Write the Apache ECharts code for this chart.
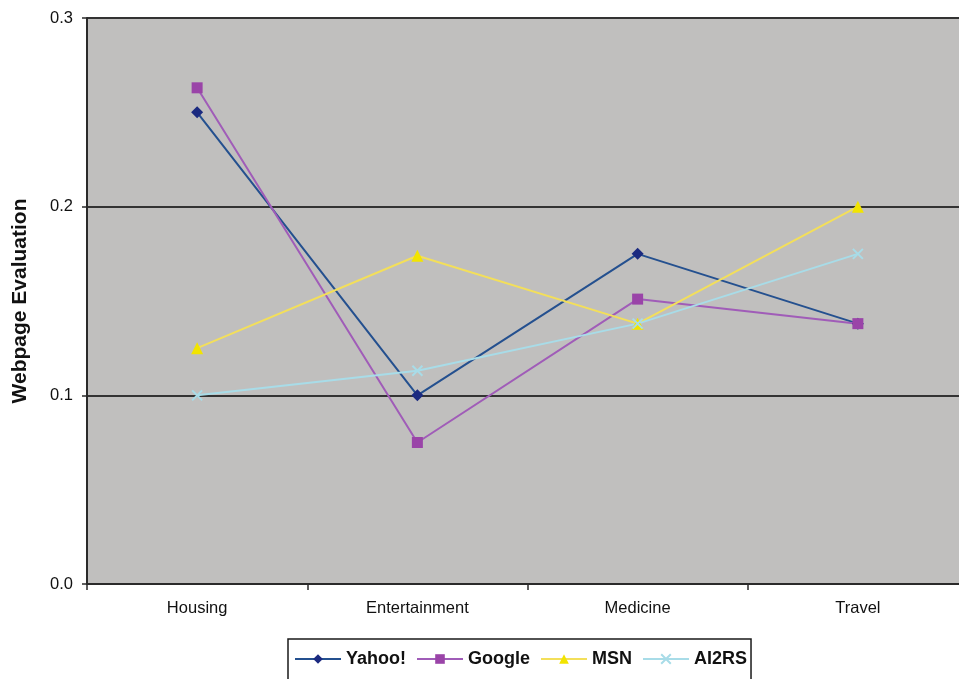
<!DOCTYPE html>
<html>
<head>
<meta charset="utf-8">
<script src="https://cdn.jsdelivr.net/npm/echarts@6/dist/echarts.min.js"></script>
<style>
html,body{margin:0;padding:0;background:#fff;}
#c{width:959px;height:679px;}
</style>
</head>
<body>
<div id="c"></div>
<script>
const categories = ['Housing', 'Entertainment', 'Medicine', 'Travel'];
const yahoo = [0.25, 0.1, 0.175, 0.138];
const google = [0.263, 0.075, 0.151, 0.138];
const msn = [0.125, 0.174, 0.138, 0.2];
const ai2rs = [0.1, 0.113, 0.138, 0.175];
const yTicks = [0, 0.1, 0.2, 0.3];

const chart = echarts.init(document.getElementById('c'), null, {renderer: 'canvas'});
const FONT = 'Liberation Sans';
const xPath = 'path://M0,0L10,10M10,0L0,10';
chart.setOption({
  animation: false,
  backgroundColor: '#ffffff',
  textStyle: {fontFamily: FONT},
  grid: {left: 87, top: 18, width: 881, height: 566, backgroundColor: '#c0bfbe', show: true, borderWidth: 0,
         containLabel: false, outerBoundsMode: 'none'},
  legend: {
    left: 288, top: 639, width: 462,
    padding: [11, 4, 14, 6],
    itemGap: 10,
    itemWidth: 46, itemHeight: 12,
    borderColor: '#1a1a1a', borderWidth: 1.5,
    textStyle: {fontFamily: FONT, fontWeight: 'bold', fontSize: 18, color: '#111'},
    data: ['Yahoo!', 'Google', 'MSN', 'AI2RS']
  },
  xAxis: {
    type: 'category', data: categories, boundaryGap: true,
    axisLine: {lineStyle: {color: '#2a2a2a', width: 2}},
    axisTick: {show: true, length: 6, alignWithLabel: false, lineStyle: {color: '#2a2a2a', width: 1.5}},
    axisLabel: {fontFamily: FONT, fontSize: 16.5, color: '#111', margin: 16},
    splitLine: {show: false}
  },
  yAxis: {
    type: 'value', min: yTicks[0], max: yTicks[yTicks.length - 1], interval: 0.1,
    name: 'Webpage Evaluation', nameLocation: 'middle', nameGap: 56, nameRotate: 90,
    nameTextStyle: {fontFamily: FONT, fontWeight: 'bold', fontSize: 21, color: '#111'},
    axisLine: {show: true, lineStyle: {color: '#2a2a2a', width: 2}},
    axisTick: {show: true, length: 5, lineStyle: {color: '#2a2a2a', width: 1.5}},
    axisLabel: {fontFamily: FONT, fontSize: 16.5, color: '#111', margin: 14, formatter: v => v.toFixed(1)},
    splitLine: {show: true, lineStyle: {color: '#333333', width: 2}}
  },
  series: [
    {name: 'Yahoo!', type: 'line', data: yahoo, symbol: 'diamond', symbolSize: 12,
     lineStyle: {color: '#24508f', width: 2}, itemStyle: {color: '#1b2a80'}},
    {name: 'Google', type: 'line', data: google, symbol: 'rect', symbolSize: 11,
     lineStyle: {color: '#a05cb8', width: 2}, itemStyle: {color: '#9a44a8'}},
    {name: 'MSN', type: 'line', data: msn, symbol: 'triangle', symbolSize: 12,
     lineStyle: {color: '#f3df5a', width: 2}, itemStyle: {color: '#f2e400'}},
    {name: 'AI2RS', type: 'line', data: ai2rs, symbol: xPath, symbolSize: 10,
     lineStyle: {color: '#a8dce8', width: 2}, itemStyle: {color: 'rgba(0,0,0,0)', borderColor: '#a8dce8', borderWidth: 2}}
  ]
});
</script>
</body>
</html>
